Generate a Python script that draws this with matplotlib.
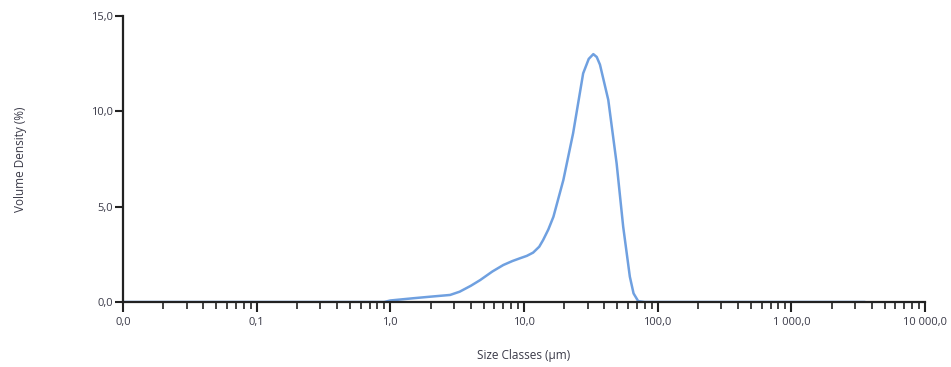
import numpy as np
import matplotlib.pyplot as plt
from matplotlib.ticker import FixedLocator, LogLocator, NullFormatter

# size classes (um) and volume density (%)
size_um = [0.01, 0.1, 0.5, 0.9, 1.0, 1.5, 2.0, 2.8, 3.3, 4.0, 4.7, 5.8, 7.0,
           8.2, 9.3, 10.5, 11.7, 13.0, 13.9, 15.2, 16.6, 19.7, 23.3, 27.7,
           30.5, 33.0, 35.0, 37.0, 42.7, 49.3, 55.2, 61.9, 66.0, 71.4, 80.0,
           200.0, 1000.0, 3500.0]
vol_pct = [0.0, 0.0, 0.0, 0.0, 0.08, 0.2, 0.28, 0.37, 0.54, 0.85, 1.15, 1.6, 1.94,
           2.15, 2.29, 2.42, 2.59, 2.9, 3.25, 3.8, 4.47, 6.4, 8.85, 11.99,
           12.75, 13.0, 12.85, 12.45, 10.6, 7.27, 3.95, 1.33, 0.45, 0.05, 0.0,
           0.0, 0.0, 0.0]

xticks = [0.01, 0.1, 1, 10, 100, 1000, 10000]
xtick_labels = ['0,0', '0,1', '1,0', '10,0', '100,0', '1 000,0', '10 000,0']
yticks = [0, 5, 10, 15]
ytick_labels = ['0,0', '5,0', '10,0', '15,0']

plt.rcParams['font.family'] = ['Open Sans', 'DejaVu Sans']
txt = '#3a3a48'

fig = plt.figure(figsize=(9.51, 3.67), dpi=100)
ax = fig.add_axes([0.1293, 0.1771, 0.8434, 0.7793])

ax.plot(size_um, vol_pct, color='#6fa0e0', linewidth=1.8, solid_joinstyle='round')

ax.set_xscale('log')
ax.set_xlim(0.01, 10000)
ax.set_ylim(0, 15)

ax.xaxis.set_major_locator(FixedLocator(xticks))
ax.set_xticklabels(xtick_labels)
ax.xaxis.set_minor_locator(LogLocator(base=10, subs=np.arange(2, 10), numticks=20))
ax.xaxis.set_minor_formatter(NullFormatter())
ax.set_yticks(yticks)
ax.set_yticklabels(ytick_labels)

for s in ['top', 'right']:
    ax.spines[s].set_visible(False)
for s in ['left', 'bottom']:
    ax.spines[s].set_linewidth(1.6)
    ax.spines[s].set_color('#222222')

ax.tick_params(axis='x', which='major', direction='out', length=7, width=1.5,
               color='#222222', labelsize=8, labelcolor=txt, pad=4)
ax.tick_params(axis='x', which='minor', direction='out', length=5, width=1.2,
               color='#222222')
ax.tick_params(axis='y', which='major', direction='out', length=6, width=1.5,
               color='#222222', labelsize=8, labelcolor=txt, pad=1)

ax.set_xlabel('Size Classes (μm)', fontsize=8.5, color=txt, labelpad=15)
ax.set_ylabel('Volume Density (%)', fontsize=8.5, color=txt, labelpad=46)

fig.savefig('out.png', dpi=100)
